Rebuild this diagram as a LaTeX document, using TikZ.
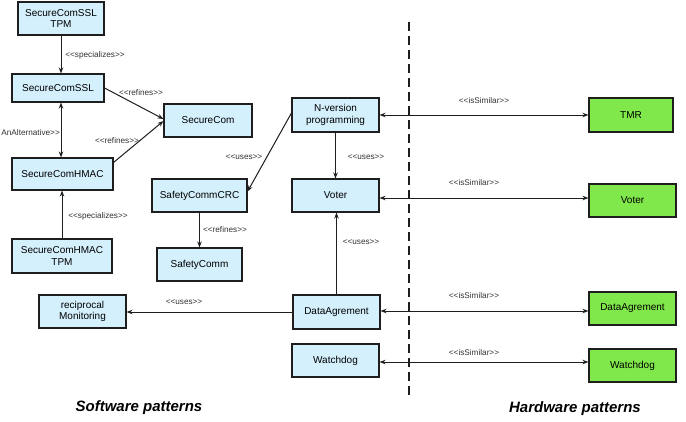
\documentclass[tikz,border=0pt]{standalone}
\usepackage{fontspec}
\setmainfont{Liberation Sans}
\usetikzlibrary{arrows.meta}
\definecolor{swblue}{RGB}{212,240,252}
\definecolor{hwgreen}{RGB}{128,232,74}
\definecolor{edge}{RGB}{30,30,30}
\newcommand{\stereo}[1]{<{}<#1>{}>}
\begin{document}
\begin{tikzpicture}[x=1pt,y=-1pt,
  box/.style={draw=edge, line width=1.1pt, fill=swblue, align=center, inner sep=0pt,
    font=\fontsize{10}{11.5}\selectfont},
  hbox/.style={box, fill=hwgreen},
  conn/.style={draw=edge, line width=1pt, -{Stealth[length=6pt,width=4.5pt]}},
  bconn/.style={draw=edge, line width=1pt, {Stealth[length=6pt,width=4.5pt]}-{Stealth[length=6pt,width=4.5pt]}},
  lbl/.style={font=\fontsize{8.2}{9}\selectfont, text=black!80, inner sep=0pt},
  title/.style={font=\fontsize{15}{17}\selectfont\bfseries\itshape, inner sep=0pt}]
\useasboundingbox (0,0) rectangle (686,421);
\fill[white] (0,0) rectangle (686,421);

% software boxes
\node[box, minimum width=86pt, minimum height=33pt] (sslTPM) at (61,18.5) {SecureComSSL\\TPM};
\node[box, minimum width=92pt, minimum height=28pt] (ssl) at (58,88) {SecureComSSL};
\node[box, minimum width=88pt, minimum height=33pt] (sc) at (208,120.5) {SecureCom};
\node[box, minimum width=101pt, minimum height=32pt] (hmac) at (62.5,174) {SecureComHMAC};
\node[box, minimum width=100pt, minimum height=34pt] (hmacTPM) at (62,256) {SecureComHMAC\\TPM};
\node[box, minimum width=95pt, minimum height=33pt] (crc) at (199.5,195.5) {SafetyCommCRC};
\node[box, minimum width=85pt, minimum height=33pt] (scomm) at (199.5,264.5) {SafetyComm};
\node[box, minimum width=87pt, minimum height=33pt] (recip) at (82.5,311.5) {reciprocal\\Monitoring};
\node[box, minimum width=87pt, minimum height=34pt] (nver) at (335.5,115) {N-version\\programming};
\node[box, minimum width=87pt, minimum height=33pt] (voter) at (335.5,195.5) {Voter};
\node[box, minimum width=87pt, minimum height=34pt] (da) at (336.5,312) {DataAgrement};
\node[box, minimum width=87pt, minimum height=33pt] (wd) at (335.5,360.5) {Watchdog};

% hardware boxes
\node[hbox, minimum width=84pt, minimum height=34pt] (tmr) at (631,115) {TMR};
\node[hbox, minimum width=87pt, minimum height=33pt] (hvoter) at (632.5,200.5) {Voter};
\node[hbox, minimum width=87pt, minimum height=33pt] (hda) at (632.5,308.5) {DataAgrement};
\node[hbox, minimum width=87pt, minimum height=33pt] (hwd) at (632.5,365.5) {Watchdog};

% separator
\coordinate (septop) at (409,22);
\coordinate (sepbot) at (409,395);
\draw[edge, line width=2pt, dash pattern=on 9pt off 5pt] (septop) -- (sepbot);

% software connectors
\draw[conn] (sslTPM.south) -- (sslTPM.south |- ssl.north);
\node[lbl] (l1) at (95,55) {\stereo{specializes}};
\draw[bconn] ([xshift=3pt]ssl.south) -- ([xshift=3pt]ssl.south |- hmac.north);
\node[lbl, anchor=east] (l2) at (60,133) {AnAlternative>{}>};
\draw[conn] (ssl.east) -- ([yshift=1.5pt]sc.west);
\node[lbl] (l3) at (141,93) {\stereo{refines}};
\draw[conn] ([yshift=-5pt]hmac.north east) -- ([yshift=-0.5pt]sc.west);
\node[lbl] (l4) at (117,141) {\stereo{refines}};
\draw[conn] (hmacTPM.north) -- (hmacTPM.north |- hmac.south);
\node[lbl] (l5) at (98,216) {\stereo{specializes}};
\draw[conn] ([yshift=2pt]nver.west) -- ([yshift=4pt]crc.east);
\node[lbl] (l6) at (244,157) {\stereo{uses}};
\draw[conn] (crc.south) -- (crc.south |- scomm.north);
\node[lbl] (l7) at (225,230) {\stereo{refines}};
\draw[conn] (nver.south) -- (nver.south |- voter.north);
\node[lbl] (l8) at (366,157) {\stereo{uses}};
\draw[conn] (da.north) -- (da.north |- voter.south);
\node[lbl] (l9) at (361,242) {\stereo{uses}};
\draw[conn] (da.west) -- (da.west -| recip.east);
\node[lbl] (l10) at (184,302) {\stereo{uses}};

% isSimilar connectors
\draw[bconn] (nver.east) -- (nver.east -| tmr.west);
\node[lbl] (s1) at (484,101) {\stereo{isSimilar}};
\draw[bconn] ([yshift=-2.5pt]voter.east) -- ([yshift=2.5pt]hvoter.west);
\node[lbl] (s2) at (474,183) {\stereo{isSimilar}};
\draw[bconn] ([yshift=1pt]da.east) -- ([yshift=-2.5pt]hda.west);
\node[lbl] (s3) at (474,296) {\stereo{isSimilar}};
\draw[bconn] ([yshift=-1.5pt]wd.east) -- ([yshift=3.5pt]hwd.west);
\node[lbl] (s4) at (474,353) {\stereo{isSimilar}};

% titles
\node[title] (sw) at (139,408) {Software patterns};
\node[title] (hw) at (575,409) {Hardware patterns};
\end{tikzpicture}
\end{document}
